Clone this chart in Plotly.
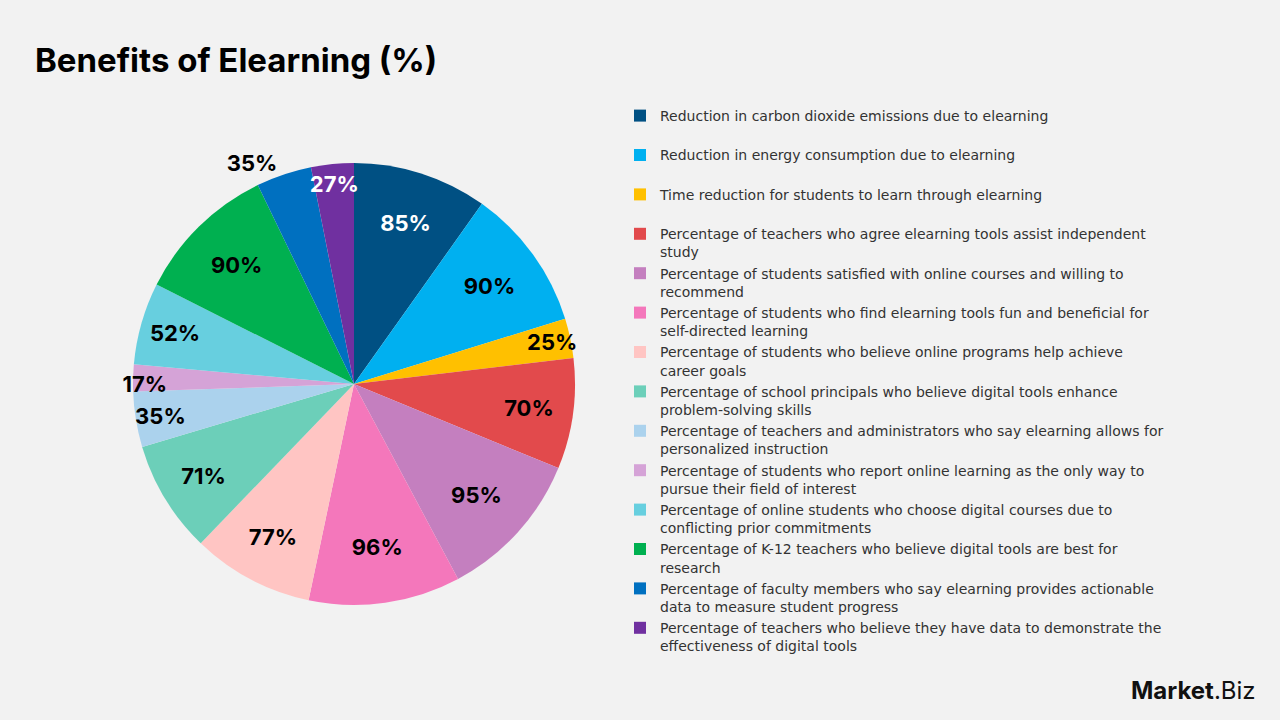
import plotly.graph_objects as go

labels = [
    "Reduction in carbon dioxide emissions due to elearning<br> ",
    "Reduction in energy consumption due to elearning<br> ",
    "Time reduction for students to learn through elearning<br> ",
    "Percentage of teachers who agree elearning tools assist independent<br>study",
    "Percentage of students satisfied with online courses and willing to<br>recommend",
    "Percentage of students who find elearning tools fun and beneficial for<br>self-directed learning",
    "Percentage of students who believe online programs help achieve<br>career goals",
    "Percentage of school principals who believe digital tools enhance<br>problem-solving skills",
    "Percentage of teachers and administrators who say elearning allows for<br>personalized instruction",
    "Percentage of students who report online learning as the only way to<br>pursue their field of interest",
    "Percentage of online students who choose digital courses due to<br>conflicting prior commitments",
    "Percentage of K-12 teachers who believe digital tools are best for<br>research",
    "Percentage of faculty members who say elearning provides actionable<br>data to measure student progress",
    "Percentage of teachers who believe they have data to demonstrate the<br>effectiveness of digital tools",
]
values = [85, 90, 25, 70, 95, 96, 77, 71, 35, 17, 52, 90, 35, 27]
colors = ["#005083", "#00b0f0", "#ffc000", "#e24a4c", "#c47fbf", "#f477bb",
          "#ffc5c3", "#6ccfb9", "#abd2ed", "#d5a3d7", "#67cfdf", "#00b050",
          "#0070c0", "#7030a0"]
text_colors = ["white", "black", "black", "black", "black", "black", "black",
               "black", "black", "black", "black", "black", "black", "white"]
text_pos = ["inside"] * 12 + ["outside", "inside"]

fig = go.Figure(go.Pie(
    labels=labels,
    values=values,
    sort=False,
    direction="clockwise",
    rotation=0,
    marker=dict(colors=colors, line=dict(width=0)),
    texttemplate="%{value}%",
    textposition=text_pos,
    insidetextorientation="horizontal",
    textfont=dict(family="Inter", size=22, color=text_colors, weight="bold"),
    outsidetextfont=dict(family="Inter", size=22, color="black", weight="bold"),
    domain=dict(x=[131/1280, 577/1280], y=[115/720, 557/720]),
    showlegend=True,
    hoverinfo="label+value",
))

fig.update_layout(
    width=1280, height=720,
    margin=dict(l=0, r=0, t=0, b=0),
    paper_bgcolor="#f2f2f2",
    plot_bgcolor="#f2f2f2",
    uniformtext=dict(minsize=22, mode="show"),
    legend=dict(
        x=620/1280, y=1 - 100/720, xanchor="left", yanchor="top",
        font=dict(family="DejaVu Sans", size=14, color="#333333"),
        valign="top", bgcolor="rgba(0,0,0,0)",
        itemclick=False,
    ),
    annotations=[
        dict(text="<b>Benefits of Elearning (%)</b>", x=33/1280, y=1 - 60/720,
             xref="paper", yref="paper", xanchor="left", yanchor="middle",
             showarrow=False, font=dict(family="Inter", size=33, color="black")),
        dict(text="<b>Market</b>.Biz", x=1258/1280, y=1 - 690/720,
             xref="paper", yref="paper", xanchor="right", yanchor="middle",
             showarrow=False, font=dict(family="Inter", size=24, color="#111111")),
    ],
)

fig.write_html("out.html")
